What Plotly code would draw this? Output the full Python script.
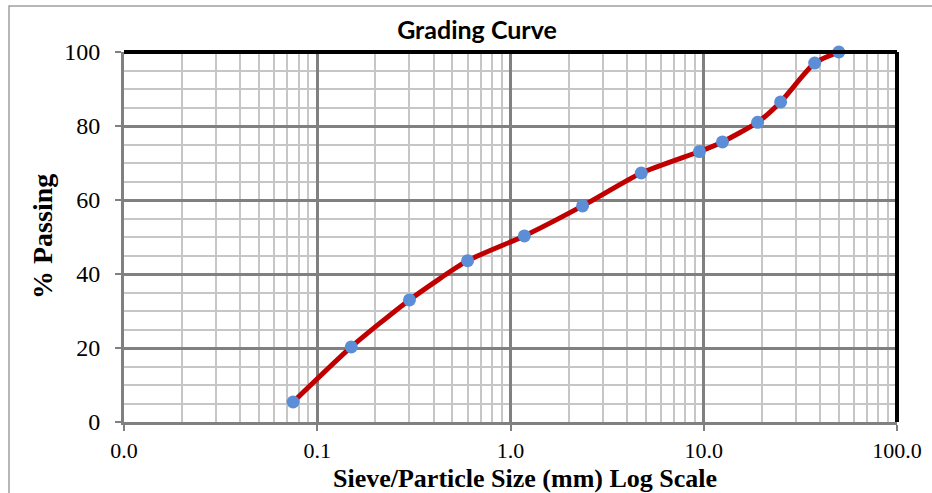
import plotly.graph_objects as go

sieve_mm = [0.075, 0.15, 0.3, 0.6, 1.18, 2.36, 4.75, 9.5, 12.5, 19, 25, 37.5, 50]
passing = [5.4, 20.3, 33.0, 43.6, 50.3, 58.4, 67.3, 73.1, 75.7, 81.0, 86.5, 97.0, 100.0]

x_tickvals = [0.01, 0.1, 1, 10, 100]
x_ticktext = ["0.0", "0.1", "1.0", "10.0", "100.0"]
x_minor = [m * d for d in [0.01, 0.1, 1, 10] for m in range(2, 10)]
y_tickvals = [0, 20, 40, 60, 80, 100]

serif = "Liberation Serif"
L, R, T, B = 124, 35, 52, 71
PW, PH = 932 - L - R, 493 - T - B

fig = go.Figure()
fig.add_trace(go.Scatter(
    x=sieve_mm, y=passing, mode="lines+markers",
    line=dict(color="#C00000", width=5, shape="spline", smoothing=0.6),
    marker=dict(color="#5B8ED6", size=13, line=dict(width=0)),
    showlegend=False, cliponaxis=False,
))

fig.update_layout(
    width=932, height=493,
    margin=dict(l=L, r=R, t=T, b=B, autoexpand=False),
    paper_bgcolor="white", plot_bgcolor="white",
    title=dict(text="<b>Grading Curve</b>", x=477/932, xanchor="center",
               y=1-30/493, yanchor="middle",
               font=dict(family="Lato", size=25, color="black")),
    xaxis=dict(
        type="log", range=[-2, 2], automargin=False,
        tickmode="array", tickvals=x_tickvals, ticktext=x_ticktext,
        ticks="outside", ticklen=6, tickcolor="#808080", tickwidth=1.5,
        ticklabelstandoff=1,
        showgrid=True, gridcolor="#808080", gridwidth=2.5,
        minor=dict(tickmode="array", tickvals=x_minor, showgrid=True,
                   gridcolor="#C6C6C6", gridwidth=1.8, ticks=""),
        showline=True, linecolor="#808080", linewidth=3,
        tickfont=dict(family=serif, size=22, color="black"),
        zeroline=False,
    ),
    yaxis=dict(
        range=[0, 100], tickmode="array", tickvals=y_tickvals, automargin=False,
        ticks="outside", ticklen=6, tickcolor="#808080", tickwidth=1.5,
        ticklabelstandoff=10,
        showgrid=True, gridcolor="#808080", gridwidth=2.5,
        minor=dict(dtick=5, showgrid=True, gridcolor="#C6C6C6", gridwidth=1.8, ticks=""),
        showline=True, linecolor="#808080", linewidth=3,
        tickfont=dict(family=serif, size=24, color="black"),
        zeroline=False,
    ),
)

# axis titles
fig.add_annotation(text="<b>Sieve/Particle Size (mm) Log Scale</b>", xref="paper", yref="paper",
                   x=(525 - L) / PW, y=(422 - 478.5) / PH, xanchor="center", yanchor="middle",
                   showarrow=False, font=dict(family=serif, size=26, color="black"))
fig.add_annotation(text="<b>% Passing</b>", xref="paper", yref="paper", textangle=-90,
                   x=(42 - L) / PW, y=0.5, xanchor="center", yanchor="middle",
                   showarrow=False, font=dict(family=serif, size=28, color="black"))

# top and right frame (thick black)
fig.add_shape(type="line", xref="x domain", yref="y domain", x0=0, x1=1, y0=1, y1=1,
              line=dict(color="black", width=4), layer="above")
fig.add_shape(type="line", xref="x domain", yref="y domain", x0=1, x1=1, y0=0, y1=1,
              line=dict(color="black", width=4), layer="above")
# outer chart border (extends beyond right/bottom edges)
fig.add_shape(type="rect", xref="paper", yref="paper",
              x0=(9 - L) / PW, x1=1.2, y0=-0.4, y1=1 + 46 / PH,
              line=dict(color="#A0A0A0", width=1.5), layer="below")

fig.write_html("out.html")
